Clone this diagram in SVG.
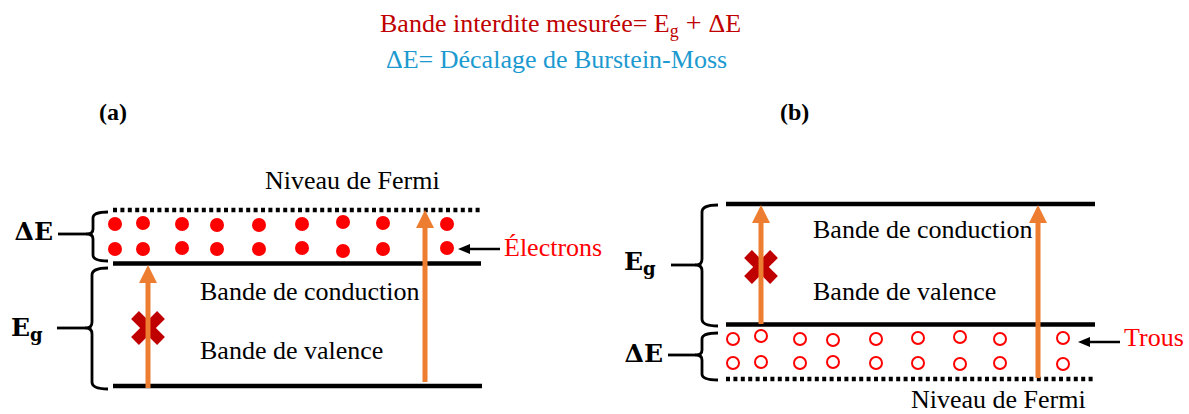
<svg xmlns="http://www.w3.org/2000/svg" width="1189" height="414" viewBox="0 0 1189 414">
<style>
  text { font-family: "Liberation Serif", "Times New Roman", serif; }
  .t { font-size: 26px; fill: #000; }
  .red { fill: #FF0000; }
  .lbl { font-family: "DejaVu Serif", "Liberation Serif", serif; font-weight: bold; font-size: 25px; fill: #000; }
  .pl { font-weight: bold; font-size: 24px; fill: #000; }
  .band { stroke: #000; stroke-width: 4.5; fill: none; }
  .fermi { stroke: #000; stroke-width: 4.5; stroke-dasharray: 4 3.4; fill: none; }
  .brace { stroke: #000; stroke-width: 2.8; fill: none; stroke-linejoin: round; }
  .el { fill: #FF0000; }
  .hole { fill: #fff; stroke: #FF0000; stroke-width: 2; }
  .orange { stroke: #ED7D31; stroke-width: 5; fill: none; marker-end: url(#oh); }
  .blk { stroke: #000; stroke-width: 2.5; fill: none; marker-end: url(#bh); }
  .cross { stroke: #C00000; stroke-width: 11; }
</style>
<defs>
  <marker id="oh" markerUnits="userSpaceOnUse" markerWidth="18" markerHeight="18" viewBox="0 0 18 18" refX="1" refY="9" orient="auto">
    <path d="M0,0 L18,9 L0,18 z" fill="#ED7D31"/>
  </marker>
  <marker id="bh" markerUnits="userSpaceOnUse" markerWidth="12" markerHeight="12" viewBox="0 0 12 12" refX="1" refY="6" orient="auto">
    <path d="M0,1 L12,6 L0,11 z" fill="#000"/>
  </marker>
</defs>

<g id="title">
  <text x="380" y="32" style="font-size:26px;fill:#C00000">Bande interdite mesurée= E<tspan dy="5" style="font-size:18px">g</tspan><tspan dy="-5" style="font-size:28px"> + </tspan><tspan>ΔE</tspan></text>
  <text x="386" y="68" style="font-size:26px;fill:#1C9AD0">ΔE= Décalage de Burstein-Moss</text>
</g>

<g id="panel-a-label"><text class="pl" x="99" y="120">(a)</text></g>
<g id="panel-b-label"><text class="pl" x="780" y="120">(b)</text></g>

<!-- Panel (a) -->
<g id="a-bands">
  <line class="fermi" x1="113" y1="210" x2="481" y2="210"/>
  <line class="band" x1="113" y1="263.5" x2="481" y2="263.5"/>
  <line class="band" x1="113" y1="386" x2="482" y2="386"/>
</g>
<g id="a-fermi-label"><text class="t" x="265" y="189">Niveau de Fermi</text></g>
<g id="a-conduction"><text class="t" x="200" y="300">Bande de conduction</text></g>
<g id="a-valence"><text class="t" x="200" y="359">Bande de valence</text></g>
<g id="a-deltaE">
  <path class="brace" d="M108,212 Q93,212 93,218 L93,229 Q93,234 87,234 Q93,234 93,239 L93,255 Q93,261 108,261"/>
  <line class="brace" x1="58" y1="234" x2="87" y2="234"/>
  <text class="lbl" x="53" y="240" text-anchor="end">ΔE</text>
</g>
<g id="a-Eg">
  <path class="brace" d="M108,268 Q92,268 92,275 L92,322 Q92,328 86,328 Q92,328 92,334 L92,382 Q92,389 108,389"/>
  <line class="brace" x1="57" y1="328" x2="86" y2="328"/>
  <text class="lbl" x="11" y="336">E<tspan dy="5" style="font-size:18px">g</tspan></text>
</g>
<g id="a-electrons">
  <circle class="el" cx="115" cy="224" r="7"/>
  <circle class="el" cx="143" cy="223" r="7"/>
  <circle class="el" cx="182" cy="224" r="7"/>
  <circle class="el" cx="217" cy="225" r="7"/>
  <circle class="el" cx="259" cy="225" r="7"/>
  <circle class="el" cx="302" cy="224" r="7"/>
  <circle class="el" cx="343" cy="222" r="7"/>
  <circle class="el" cx="383" cy="223" r="7"/>
  <circle class="el" cx="447" cy="224" r="7"/>
  <circle class="el" cx="115" cy="249" r="7"/>
  <circle class="el" cx="143" cy="249" r="7"/>
  <circle class="el" cx="182" cy="248" r="7"/>
  <circle class="el" cx="217" cy="249" r="7"/>
  <circle class="el" cx="259" cy="249" r="7"/>
  <circle class="el" cx="302" cy="248" r="7"/>
  <circle class="el" cx="343" cy="251" r="7"/>
  <circle class="el" cx="383" cy="249" r="7"/>
  <circle class="el" cx="447" cy="248" r="7"/>
</g>
<g id="a-electrons-label"><text class="t red" x="504" y="256">Électrons</text></g>
<g id="a-cross">
  <line class="cross" x1="135" y1="315" x2="161" y2="341"/>
  <line class="cross" x1="161" y1="315" x2="135" y2="341"/>
</g>

<!-- Panel (b) -->
<g id="b-bands">
  <line class="band" x1="726" y1="204" x2="1095" y2="204"/>
  <line class="band" x1="726" y1="324.5" x2="1095" y2="324.5"/>
  <line class="fermi" x1="726" y1="379" x2="1095" y2="379"/>
</g>
<g id="b-conduction"><text class="t" x="813" y="238">Bande de conduction</text></g>
<g id="b-valence"><text class="t" x="813" y="300">Bande de valence</text></g>
<g id="b-fermi-label"><text class="t" x="911" y="408">Niveau de Fermi</text></g>
<g id="b-Eg">
  <path class="brace" d="M718,205 Q702,205 702,212 L702,259 Q702,265 696,265 Q702,265 702,271 L702,319 Q702,326 718,326"/>
  <line class="brace" x1="671" y1="265" x2="696" y2="265"/>
  <text class="lbl" x="624" y="270">E<tspan dy="5" style="font-size:18px">g</tspan></text>
</g>
<g id="b-deltaE">
  <path class="brace" d="M718,333 Q702,333 702,339 L702,350 Q702,355 696,355 Q702,355 702,360 L702,374 Q702,380 718,380"/>
  <line class="brace" x1="668" y1="355" x2="696" y2="355"/>
  <text class="lbl" x="663" y="362" text-anchor="end">ΔE</text>
</g>
<g id="b-holes">
  <circle class="hole" cx="733" cy="339" r="6"/>
  <circle class="hole" cx="761" cy="336" r="6"/>
  <circle class="hole" cx="800" cy="339" r="6"/>
  <circle class="hole" cx="833" cy="340" r="6"/>
  <circle class="hole" cx="876" cy="339" r="6"/>
  <circle class="hole" cx="918" cy="338" r="6"/>
  <circle class="hole" cx="960" cy="337" r="6"/>
  <circle class="hole" cx="1000" cy="339" r="6"/>
  <circle class="hole" cx="1063" cy="338" r="6"/>
  <circle class="hole" cx="733" cy="363" r="6"/>
  <circle class="hole" cx="761" cy="362" r="6"/>
  <circle class="hole" cx="800" cy="363" r="6"/>
  <circle class="hole" cx="833" cy="362" r="6"/>
  <circle class="hole" cx="876" cy="363" r="6"/>
  <circle class="hole" cx="918" cy="363" r="6"/>
  <circle class="hole" cx="960" cy="364" r="6"/>
  <circle class="hole" cx="1000" cy="363" r="6"/>
  <circle class="hole" cx="1063" cy="364" r="6"/>
</g>
<g id="b-holes-label"><text class="t red" x="1124" y="346">Trous</text></g>
<g id="b-cross">
  <line class="cross" x1="748" y1="254" x2="774" y2="280"/>
  <line class="cross" x1="774" y1="254" x2="748" y2="280"/>
</g>

<g id="connectors">
  <line class="orange" x1="148" y1="388" x2="148" y2="282"/>
  <line class="orange" x1="425" y1="382" x2="425" y2="227"/>
  <line class="orange" x1="761" y1="324" x2="761" y2="222"/>
  <line class="orange" x1="1038" y1="378" x2="1038" y2="222"/>
  <line class="blk" x1="500" y1="249" x2="469" y2="249"/>
  <line class="blk" x1="1120" y1="342" x2="1089" y2="342"/>
</g>
</svg>
